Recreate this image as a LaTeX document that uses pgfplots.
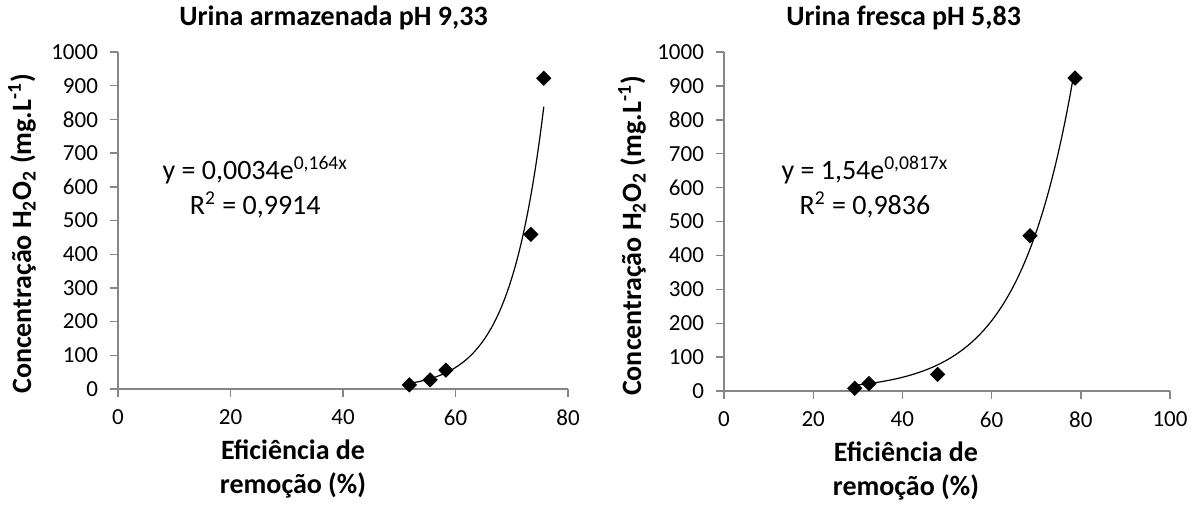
\documentclass[border=0pt]{standalone}
\usepackage{fontspec}
\setmainfont{Carlito}
\usepackage{pgfplots}
\pgfplotsset{compat=1.18}
\definecolor{axisgray}{HTML}{868686}

% measured data: removal efficiency (%) vs H2O2 concentration (mg/L)
\pgfplotstableread{
x     y
51.8  12
55.5  27
58.3  56
73.4  459
75.7  922
}\armazenada
\pgfplotstableread{
x     y
29.3  8
32.5  22
47.9  49
68.6  458
78.7  923
}\fresca

\pgfplotsset{
  urina/.style={
    scale only axis,
    axis lines=left,
    axis line style={draw=axisgray, line width=0.7pt, -},
    tick style={draw=axisgray, line width=0.7pt},
    tick align=outside,
    major tick length=4pt,
    ymin=0, ymax=1000, ytick={0,100,...,1000},
    xmin=0,
    tick label style={font=\fontsize{11.5}{13}\selectfont},
    xticklabel style={yshift=-3pt},
    yticklabel style={xshift=-2.5pt},
    /pgf/number format/assume math mode=true,
    /pgf/number format/set thousands separator={},
    title style={font=\bfseries\fontsize{14}{16}\selectfont, anchor=base, yshift=7.5pt},
    xlabel style={font=\bfseries\fontsize{14}{17}\selectfont, align=center, anchor=north, yshift=-22pt},
    ylabel style={font=\bfseries\fontsize{14}{16}\selectfont, anchor=center},
    clip=false,
  },
  pontos/.style={only marks, mark=square*, mark size=2.5pt, mark options={rotate=45, fill=black, draw=black}},
  tendencia/.style={black, line width=0.6pt, smooth, samples=60},
}

\begin{document}
\begin{tikzpicture}[x=1pt,y=1pt]
\useasboundingbox (-59,-58) rectangle (538.5,194.5);

\begin{axis}[urina,
  at={(0,0)}, anchor=origin,
  width=225pt, height=168.5pt,
  xmax=80, xtick={0,20,...,80},
  title={Urina armazenada pH 9,33},
  title style={at={(rel axis cs:0.479,1)}},
  xlabel={Eficiência de\\remoção (\%)},
  xlabel style={at={(rel axis cs:0.389,0)}},
  ylabel={Concentração H\textsubscript{2}O\textsubscript{2} (mg.L\textsuperscript{-1})},
  ylabel style={at={(rel axis cs:0,0.46)}, yshift=48pt},
]
\addplot[tendencia, domain=51.8:75.7] {0.0034*exp(0.164*x)};
\addplot[pontos] table[x=x, y=y] {\armazenada};
\node[font=\fontsize{14}{16}\selectfont, align=center] at (axis cs:24.4,650) {y = 0,0034e\textsuperscript{0,164x}};
\node[font=\fontsize{14}{16}\selectfont, align=center] at (axis cs:24.4,546) {R\textsuperscript{2} = 0,9914};
\end{axis}

\begin{axis}[urina,
  at={(303pt,-1pt)}, anchor=origin,
  width=223pt, height=169.5pt,
  xmax=100, xtick={0,20,...,100},
  title={Urina fresca pH 5,83},
  title style={at={(rel axis cs:0.403,1)}},
  xlabel={Eficiência de\\remoção (\%)},
  xlabel style={at={(rel axis cs:0.408,0)}},
  ylabel={Concentração H\textsubscript{2}O\textsubscript{2} (mg.L\textsuperscript{-1})},
  ylabel style={at={(rel axis cs:0,0.457)}, yshift=46pt},
]
\addplot[tendencia, domain=29.3:78.4] {1.54*exp(0.0817*x)};
\addplot[pontos] table[x=x, y=y] {\fresca};
\node[font=\fontsize{14}{16}\selectfont, align=center] at (axis cs:31.6,652) {y = 1,54e\textsuperscript{0,0817x}};
\node[font=\fontsize{14}{16}\selectfont, align=center] at (axis cs:31.6,549) {R\textsuperscript{2} = 0,9836};
\end{axis}
\end{tikzpicture}
\end{document}
